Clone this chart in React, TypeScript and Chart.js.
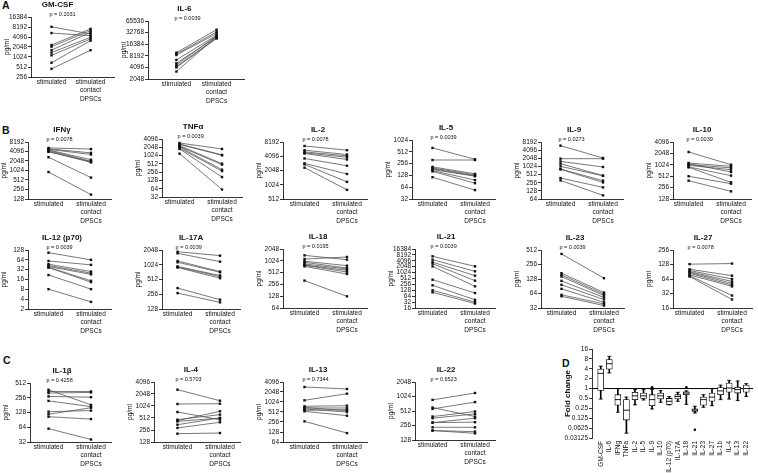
import React, { useEffect, useRef } from 'react';
import { Chart, registerables } from 'chart.js';

Chart.register(...registerables);

const FONT = '"Liberation Sans", Arial, Helvetica, sans-serif';
Chart.defaults.font.family = FONT;
Chart.defaults.color = '#111';

// ---------- category labels ----------
const X_LABELS: (string | string[])[] = ['stimulated', ['stimulated', 'contact', 'DPSCs']];

// ---------- panel titles and p values ----------
const PANEL_TITLES = ['GM-CSF', 'IL-6', 'IFNγ', 'TNFα', 'IL-2', 'IL-5', 'IL-9', 'IL-10', 'IL-12 (p70)', 'IL-17A', 'IL-18', 'IL-21', 'IL-23', 'IL-27', 'IL-1β', 'IL-4', 'IL-13', 'IL-22'];
const P_VALUES = ['p = 0.2031', 'p = 0.0039', 'p = 0.0078', 'p = 0.0039', 'p = 0.0078', 'p = 0.0039', 'p = 0.0273', 'p = 0.0039', 'p = 0.0039', 'p = 0.0039', 'p = 0.0195', 'p = 0.0039', 'p = 0.0039', 'p = 0.0078', 'p = 0.4258', 'p = 0.5703', 'p = 0.7344', 'p = 0.6523'];

// ---------- paired values (pg/ml): stimulated vs stimulated + contact DPSCs ----------
const GMCSF_STIM = [8300, 5400, 2350, 2100, 1650, 1390, 1150, 690, 450];
const GMCSF_CONTACT = [5050, 4500, 7200, 6400, 5700, 4000, 3570, 3170, 1640];
const IL6_STIM = [9900, 9150, 8600, 6400, 5250, 4770, 4330, 4100, 3200];
const IL6_CONTACT = [39000, 34000, 31000, 28000, 25500, 27000, 24000, 23000, 26000];
const IFNG_STIM = [5300, 5000, 4800, 4600, 4400, 4150, 4000, 2700, 915];
const IFNG_CONTACT = [4900, 3700, 3300, 2250, 2000, 1850, 1950, 610, 176];
const TNFA_STIM = [2930, 2700, 2600, 2350, 2200, 2100, 1900, 1780, 1200];
const TNFA_CONTACT = [1780, 1080, 1050, 520, 480, 315, 280, 170, 60];
const IL2_STIM = [6750, 5500, 5060, 4830, 4680, 3680, 2900, 2760, 2350];
const IL2_CONTACT = [5500, 4450, 4170, 3900, 3500, 2580, 1730, 1180, 800];
const IL5_STIM = [643, 316, 211, 198, 190, 180, 170, 162, 115];
const IL5_CONTACT = [330, 316, 140, 132, 125, 122, 97, 81, 54];
const IL9_STIM = [6000, 1980, 1570, 1290, 1030, 820, 800, 380, 312];
const IL9_CONTACT = [2100, 1980, 975, 470, 460, 305, 263, 172, 87];
const IL10_STIM = [2230, 1140, 1100, 1040, 990, 900, 880, 510, 390];
const IL10_CONTACT = [1030, 935, 660, 850, 760, 530, 352, 325, 204];
const IL12_STIM = [106, 59, 47, 43, 40, 38, 37, 22, 8.1];
const IL12_CONTACT = [64, 45, 28, 25, 23, 14.6, 13.3, 8.1, 3.3];
const IL17A_STIM = [1890, 1750, 1225, 1150, 945, 920, 900, 342, 270];
const IL17A_CONTACT = [1570, 1185, 744, 720, 617, 588, 545, 198, 175];
const IL18_STIM = [1410, 1135, 1000, 935, 850, 800, 787, 740, 320];
const IL18_CONTACT = [1095, 1280, 770, 670, 634, 585, 530, 470, 127];
const IL21_STIM = [6950, 4700, 3500, 2920, 2130, 445, 230, 128, 101];
const IL21_CONTACT = [2130, 1190, 713, 397, 204, 93, 42, 32, 27];
const IL23_STIM = [424, 169, 156, 144, 117, 97, 80, 60, 56];
const IL23_CONTACT = [133, 67, 62, 58, 53, 48, 42, 39, 36];
const IL27_STIM = [130, 102, 96, 91, 88, 84, 78, 75, 72];
const IL27_CONTACT = [134, 75, 64, 57, 52, 48, 45, 29, 24];
const IL1B_STIM = [373, 344, 320, 272, 221, 133, 118, 105, 60];
const IL1B_CONTACT = [183, 344, 329, 263, 169, 140, 160, 94, 36];
const IL4_STIM = [2630, 1150, 724, 465, 440, 420, 348, 288, 207];
const IL4_CONTACT = [1390, 1170, 465, 622, 755, 512, 512, 400, 215];
const IL13_STIM = [2900, 1150, 760, 700, 676, 630, 575, 537, 268];
const IL13_CONTACT = [2520, 1820, 793, 560, 676, 512, 602, 397, 119];
const IL22_STIM = [872, 604, 567, 393, 363, 294, 294, 235, 201, 201];
const IL22_CONTACT = [1210, 393, 783, 500, 446, 300, 363, 235, 191, 176];

// ---------- y tick labels (log2 axes) ----------
const GMCSF_TICKS = [256, 512, 1024, 2048, 4096, 8192, 16384];
const IL6_TICKS = [2048, 4096, 8192, 16384, 32768, 65536];
const IFNG_TICKS = [128, 256, 512, 1024, 2048, 4096, 8192];
const TNFA_TICKS = [32, 64, 128, 256, 512, 1024, 2048, 4096];
const IL2_TICKS = [512, 1024, 2048, 4096, 8192];
const IL5_TICKS = [32, 64, 128, 256, 512, 1024];
const IL9_TICKS = [64, 128, 256, 512, 1024, 2048, 4096, 8192];
const IL10_TICKS = [128, 256, 512, 1024, 2048, 4096];
const IL12_TICKS = [2, 4, 8, 16, 32, 64, 128];
const IL17A_TICKS = [128, 256, 512, 1024, 2048];
const IL18_TICKS = [64, 128, 256, 512, 1024, 2048];
const IL21_TICKS = [16, 32, 64, 128, 256, 512, 1024, 2048, 4096, 8192, 16384];
const IL23_TICKS = [32, 64, 128, 256, 512];
const IL27_TICKS = [16, 32, 64, 128, 256];
const IL1B_TICKS = [32, 64, 128, 256, 512];
const IL4_TICKS = [128, 256, 512, 1024, 2048, 4096];
const IL13_TICKS = [64, 128, 256, 512, 1024, 2048, 4096];
const IL22_TICKS = [128, 256, 512, 1024, 2048];

// ---------- panel D: fold change box plots ----------
const FOLD_CATS = ['GM-CSF', 'IL-6', 'IFNg', 'TNFa', 'IL-2', 'IL-5', 'IL-9', 'IL-10', 'IL-12 (p70)', 'IL-17A', 'IL-18', 'IL-21', 'IL-23', 'IL-27', 'IL-1b', 'IL-4', 'IL-13', 'IL-22'];
const FOLD_MIN = [0.48, 3.0, 0.19, 0.044, 0.32, 0.45, 0.24, 0.38, 0.32, 0.41, 0.33, 0.18, 0.27, 0.30, 0.46, 0.48, 0.43, 0.57];
const FOLD_Q1 = [0.88, 3.9, 0.31, 0.11, 0.46, 0.50, 0.30, 0.48, 0.33, 0.48, 0.65, 0.20, 0.31, 0.41, 0.65, 0.77, 0.73, 0.77];
const FOLD_MEDIAN = [2.9, 5.7, 0.46, 0.22, 0.60, 0.60, 0.46, 0.60, 0.41, 0.57, 0.73, 0.22, 0.46, 0.55, 0.85, 1.04, 0.93, 1.0];
const FOLD_Q3 = [3.9, 7.6, 0.65, 0.46, 0.77, 0.73, 0.65, 0.73, 0.50, 0.65, 0.80, 0.24, 0.55, 0.73, 1.07, 1.47, 1.10, 1.27];
const FOLD_MAX = [4.8, 9.6, 1.0, 0.55, 0.93, 0.93, 0.93, 0.87, 0.57, 0.77, 0.85, 0.29, 0.65, 1.0, 1.27, 1.78, 1.70, 1.41];
const FOLD_OUTLIER_CATS = ['IL-9', 'IL-18', 'IL-21'];
const FOLD_OUTLIER_VALUES = [1.1, 1.1, 0.056];
const FOLD_TICKS = [0.03125, 0.0625, 0.125, 0.25, 0.5, 1, 2, 4, 8, 16];
const FOLD_BASELINE = 1;

// ---------- layout (page pixels) ----------
const LAYOUT: any[] = [
  { axisX: 31, stimX: 52, top: 17, bot: 77, dx: 40, titleDx: 6 },
  { axisX: 148, stimX: 177, top: 21, bot: 79, dx: 41, titleDx: 8, endOff: 69 },
  { axisX: 28, stimX: 49, top: 142, bot: 199 },
  { axisX: 162, stimX: 180, top: 139, bot: 197 },
  { axisX: 283, stimX: 305, top: 142, bot: 199 },
  { axisX: 412, stimX: 433, top: 140, bot: 199 },
  { axisX: 541, stimX: 561, top: 142, bot: 199 },
  { axisX: 673, stimX: 689, top: 142, bot: 199 },
  { axisX: 28, stimX: 49, top: 250, bot: 309 },
  { axisX: 162, stimX: 178, top: 250, bot: 309 },
  { axisX: 283, stimX: 305, top: 249, bot: 308 },
  { axisX: 415, stimX: 433, top: 249, bot: 308 },
  { axisX: 541, stimX: 562, top: 250, bot: 308 },
  { axisX: 673, stimX: 690, top: 250, bot: 308 },
  { axisX: 30, stimX: 49, top: 383, bot: 442 },
  { axisX: 154, stimX: 178, top: 382, bot: 442 },
  { axisX: 283, stimX: 305, top: 382, bot: 442 },
  { axisX: 415, stimX: 433, top: 382, bot: 440 },
];

const SERIES: [number[], number[], number[]][] = [
  [GMCSF_STIM, GMCSF_CONTACT, GMCSF_TICKS],
  [IL6_STIM, IL6_CONTACT, IL6_TICKS],
  [IFNG_STIM, IFNG_CONTACT, IFNG_TICKS],
  [TNFA_STIM, TNFA_CONTACT, TNFA_TICKS],
  [IL2_STIM, IL2_CONTACT, IL2_TICKS],
  [IL5_STIM, IL5_CONTACT, IL5_TICKS],
  [IL9_STIM, IL9_CONTACT, IL9_TICKS],
  [IL10_STIM, IL10_CONTACT, IL10_TICKS],
  [IL12_STIM, IL12_CONTACT, IL12_TICKS],
  [IL17A_STIM, IL17A_CONTACT, IL17A_TICKS],
  [IL18_STIM, IL18_CONTACT, IL18_TICKS],
  [IL21_STIM, IL21_CONTACT, IL21_TICKS],
  [IL23_STIM, IL23_CONTACT, IL23_TICKS],
  [IL27_STIM, IL27_CONTACT, IL27_TICKS],
  [IL1B_STIM, IL1B_CONTACT, IL1B_TICKS],
  [IL4_STIM, IL4_CONTACT, IL4_TICKS],
  [IL13_STIM, IL13_CONTACT, IL13_TICKS],
  [IL22_STIM, IL22_CONTACT, IL22_TICKS],
];

const panelText = {
  id: 'panelText',
  afterDraw(chart: any, _args: any, opts: any) {
    if (!opts || !opts.title) return;
    const { ctx, chartArea, scales } = chart;
    const sx = scales.x.getPixelForValue(0);
    ctx.save();
    ctx.fillStyle = '#111';
    ctx.textBaseline = 'middle';
    ctx.textAlign = 'center';
    ctx.font = `bold 8px ${FONT}`;
    ctx.fillText(opts.title, sx + opts.titleDx, chartArea.top - 12);
    ctx.textAlign = 'left';
    ctx.font = `5.5px ${FONT}`;
    ctx.fillText(opts.p, sx - 2, chartArea.top - 3);
    ctx.restore();
  },
};

const baselinePlugin = {
  id: 'baseline',
  beforeDatasetsDraw(chart: any, _args: any, opts: any) {
    const { ctx, chartArea, scales } = chart;
    const y = scales.y.getPixelForValue(opts.value);
    ctx.save();
    ctx.strokeStyle = '#000';
    ctx.lineWidth = 1;
    ctx.beginPath();
    ctx.moveTo(chartArea.left, y);
    ctx.lineTo(chartArea.right, y);
    ctx.stroke();
    ctx.restore();
  },
};

function PairPanel({ index }: { index: number }) {
  const ref = useRef<HTMLCanvasElement | null>(null);
  const cfg = LAYOUT[index];
  const [stim, contact, ticks] = SERIES[index];
  const yw = cfg.yw ?? 28;
  const PT = 22;
  const XH = 34;
  const dx = cfg.dx ?? 43.5;
  const endOff = cfg.endOff ?? 64;
  const plotW = Math.round(cfg.stimX + endOff - cfg.axisX);
  const plotH = cfg.bot - cfg.top;
  const width = yw + plotW + 2;
  const height = PT + plotH + XH;
  const left = cfg.axisX - yw;
  const top = cfg.top - PT;

  useEffect(() => {
    const xmin = (cfg.axisX - cfg.stimX) / dx;
    const xmax = (cfg.axisX + plotW - cfg.stimX) / dx;
    const chart = new Chart(ref.current as HTMLCanvasElement, {
      type: 'line',
      data: {
        datasets: stim.map((s, i) => ({
          data: [
            { x: 0, y: s },
            { x: 1, y: contact[i] },
          ],
          borderColor: '#555',
          borderWidth: 0.8,
          pointRadius: 1.7,
          pointStyle: 'rect',
          pointBackgroundColor: '#111',
          pointBorderWidth: 0,
          fill: false,
        })),
      },
      options: {
        responsive: false,
        animation: false,
        events: [],
        layout: { padding: { top: PT, right: 2, left: 0, bottom: 0 } },
        plugins: {
          legend: { display: false },
          tooltip: { enabled: false },
          panelText: { title: PANEL_TITLES[index], p: P_VALUES[index], titleDx: cfg.titleDx ?? 13.5 },
        } as any,
        scales: {
          x: {
            type: 'linear',
            min: xmin,
            max: xmax,
            afterBuildTicks: (s: any) => {
              s.ticks = [{ value: 0 }, { value: 1 }];
            },
            afterFit: (s: any) => {
              s.height = XH;
            },
            grid: { display: false, drawTicks: false },
            border: { display: true, color: '#000', width: 0.8 },
            ticks: {
              autoSkip: false,
              maxRotation: 0,
              minRotation: 0,
              padding: 1,
              color: '#111',
              font: { size: 6.5, lineHeight: 1.28 },
              callback: (v: any) => (v === 0 ? X_LABELS[0] : v === 1 ? X_LABELS[1] : ''),
            },
          },
          y: {
            type: 'logarithmic',
            min: ticks[0],
            max: ticks[ticks.length - 1],
            afterBuildTicks: (s: any) => {
              s.ticks = ticks.map((v) => ({ value: v }));
            },
            afterFit: (s: any) => {
              s.width = yw;
            },
            grid: { display: true, drawOnChartArea: false, drawTicks: true, tickLength: 3, color: '#000', lineWidth: 0.8 },
            border: { display: true, color: '#000', width: 0.8 },
            ticks: {
              autoSkip: false,
              padding: 1,
              color: '#111',
              font: { size: 6.5 },
              callback: (v: any) => String(v),
            },
            title: { display: true, text: 'pg/ml', color: '#111', font: { size: 6.5 }, padding: 0 },
          },
        } as any,
      },
      plugins: [panelText],
    } as any);
    return () => chart.destroy();
  }, [index]);

  return (
    <canvas
      ref={ref}
      width={width}
      height={height}
      style={{ position: 'absolute', left, top, width, height }}
    />
  );
}

function FoldPanel() {
  const ref = useRef<HTMLCanvasElement | null>(null);
  const left = 559;
  const yw = 33;
  const axisX = left + yw; // 592
  const firstX = 601;
  const step = 8.82;
  const plotTop = 349;
  const plotBot = 438;
  const PT = 8;
  const XH = 35;
  const width = 758 - left;
  const height = PT + (plotBot - plotTop) + XH;
  const top = plotTop - PT;

  useEffect(() => {
    const xmin = (axisX - firstX) / step;
    const xmax = (758 - firstX) / step;
    const outlierData = FOLD_OUTLIER_CATS.map((c, i) => ({ x: FOLD_CATS.indexOf(c), y: FOLD_OUTLIER_VALUES[i] }));
    const chart = new Chart(ref.current as HTMLCanvasElement, {
      type: 'bar',
      data: {
        datasets: [
          {
            type: 'bar',
            data: FOLD_CATS.map((_, i) => ({ x: i, y: [FOLD_MIN[i], FOLD_MAX[i]] })),
            backgroundColor: '#000',
            borderWidth: 0,
            barThickness: 1,
            grouped: false,
            order: 5,
          },
          {
            type: 'bar',
            data: FOLD_CATS.map((_, i) => ({ x: i, y: [FOLD_Q1[i], FOLD_Q3[i]] })),
            backgroundColor: '#fff',
            borderColor: '#000',
            borderWidth: 0.8,
            borderSkipped: false,
            barThickness: 6,
            grouped: false,
            order: 4,
          },
          {
            type: 'line',
            data: FOLD_CATS.map((_, i) => ({ x: i, y: FOLD_MIN[i] })).concat(FOLD_CATS.map((_, i) => ({ x: i, y: FOLD_MAX[i] }))),
            showLine: false,
            pointStyle: 'line',
            pointRadius: 2,
            borderColor: '#000',
            pointBorderColor: '#000',
            pointBorderWidth: 0.8,
            order: 3,
          },
          {
            type: 'line',
            data: FOLD_CATS.map((_, i) => ({ x: i, y: FOLD_MEDIAN[i] })),
            showLine: false,
            pointStyle: 'line',
            pointRadius: 3,
            borderColor: '#000',
            pointBorderColor: '#000',
            pointBorderWidth: 0.9,
            order: 2,
          },
          {
            type: 'line',
            data: outlierData,
            showLine: false,
            pointStyle: 'circle',
            pointRadius: 1.3,
            pointBackgroundColor: '#000',
            pointBorderWidth: 0,
            order: 1,
          },
        ],
      },
      options: {
        responsive: false,
        animation: false,
        events: [],
        layout: { padding: { top: PT, right: 0, left: 0, bottom: 0 } },
        plugins: {
          legend: { display: false },
          tooltip: { enabled: false },
          baseline: { value: FOLD_BASELINE },
        } as any,
        scales: {
          x: {
            type: 'linear',
            offset: false,
            min: xmin,
            max: xmax,
            afterBuildTicks: (s: any) => {
              s.ticks = FOLD_CATS.map((_, i) => ({ value: i }));
            },
            afterFit: (s: any) => {
              s.height = XH;
            },
            grid: { display: false, drawTicks: false },
            border: { display: false },
            ticks: {
              autoSkip: false,
              minRotation: 90,
              maxRotation: 90,
              padding: 3,
              color: '#111',
              font: { size: 6.5 },
              callback: (v: any) => FOLD_CATS[v] ?? '',
            },
          },
          y: {
            type: 'logarithmic',
            min: FOLD_TICKS[0],
            max: FOLD_TICKS[FOLD_TICKS.length - 1],
            afterBuildTicks: (s: any) => {
              s.ticks = FOLD_TICKS.map((v) => ({ value: v }));
            },
            afterFit: (s: any) => {
              s.width = yw;
            },
            grid: { display: true, drawOnChartArea: false, drawTicks: true, tickLength: 3, color: '#000', lineWidth: 0.8 },
            border: { display: true, color: '#000', width: 0.8 },
            ticks: {
              autoSkip: false,
              padding: 1,
              color: '#111',
              font: { size: 6.5 },
              callback: (v: any) => String(v),
            },
            title: { display: true, text: 'Fold change', color: '#111', font: { size: 8, weight: 'bold' }, padding: { top: 4, bottom: 0 } },
          },
        } as any,
      },
      plugins: [baselinePlugin],
    } as any);
    return () => chart.destroy();
  }, []);

  return (
    <canvas
      ref={ref}
      width={width}
      height={height}
      style={{ position: 'absolute', left, top, width, height }}
    />
  );
}

const letterStyle = (left: number, top: number): React.CSSProperties => ({
  position: 'absolute',
  left,
  top,
  fontFamily: FONT,
  fontWeight: 'bold',
  fontSize: '10.5px',
  lineHeight: '11px',
  color: '#111',
});

export default function App() {
  return (
    <div style={{ position: 'fixed', left: 0, top: 0, width: 758, height: 473, background: '#fff', overflow: 'hidden' }}>
      <span style={letterStyle(2, 0)}>A</span>
      <span style={letterStyle(2, 125)}>B</span>
      <span style={letterStyle(3, 355)}>C</span>
      <span style={letterStyle(562, 358)}>D</span>
      {LAYOUT.map((_, i) => (
        <PairPanel key={i} index={i} />
      ))}
      <FoldPanel />
    </div>
  );
}
